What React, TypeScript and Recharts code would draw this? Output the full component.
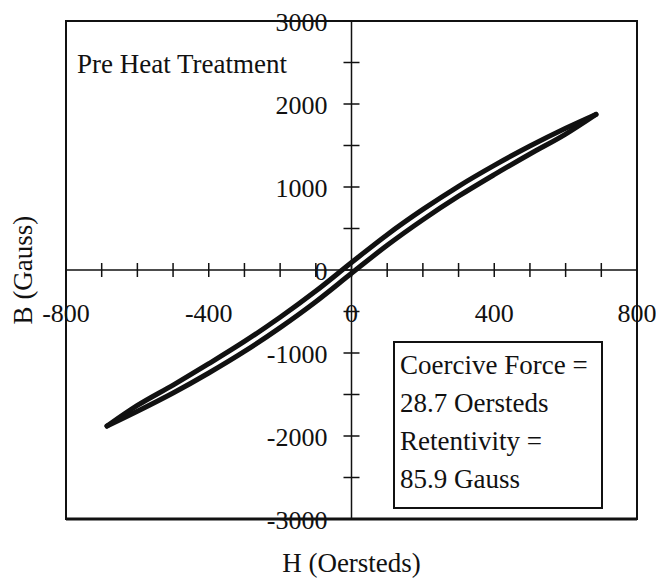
import { ComposedChart, Line, XAxis, YAxis, ReferenceLine, ReferenceArea } from 'recharts';

// hysteresis loop (H in Oersteds, B in Gauss)
const H_POINTS = [-685, -600, -500, -400, -300, -200, -100, 0, 100, 200, 300, 400, 500, 600, 685];
const UPPER_BRANCH = [-1880, -1632, -1386, -1129, -861, -570, -254, 90, 426, 730, 1009, 1261, 1494, 1708, 1875];
const LOWER_BRANCH = [-1880, -1702, -1482, -1241, -981, -694, -382, -40, 298, 606, 889, 1149, 1398, 1638, 1875];

const X_TICKS = [-800, -700, -600, -500, -400, -300, -200, -100, 0, 100, 200, 300, 400, 500, 600, 700, 800];
const X_LABELS = [-800, -400, 0, 400, 800];
const Y_TICKS = [-3000, -2500, -2000, -1500, -1000, -500, 0, 500, 1000, 1500, 2000, 2500, 3000];
const Y_LABELS = [-3000, -2000, -1000, 0, 1000, 2000, 3000];

const NOTE_LINES = ['Coercive Force =', '28.7 Oersteds', 'Retentivity =', '85.9 Gauss'];

const upperData = H_POINTS.map((h, i) => ({ h, b: UPPER_BRANCH[i] }));
const lowerData = H_POINTS.map((h, i) => ({ h, b: LOWER_BRANCH[i] }));

// body margin is removed, so the chart fills the whole 656x580 page
const W = 656;
const H = 580;
// axes get 1px each (a zero-size axis draws nothing), margins make up the rest
const MARGIN = { top: 21, right: 19, bottom: 60, left: 65 };
const PLOT_LEFT = MARGIN.left + 1;
const PLOT_BOTTOM = H - MARGIN.bottom - 1;
// axes cross in the middle of the plot area
const MID_X = (PLOT_LEFT + W - MARGIN.right) / 2;
const MID_Y = (MARGIN.top + PLOT_BOTTOM) / 2;

const INK = '#111';
const FONT = "'Liberation Serif', 'Times New Roman', serif";

function XTick(props: any) {
  const { x, payload } = props;
  const v = payload.value;
  return (
    <g>
      <line x1={x} x2={x} y1={MID_Y - 7} y2={MID_Y + 7} stroke={INK} strokeWidth={1.5} />
      {X_LABELS.includes(v) && (
        <text x={x} y={MID_Y + 52} textAnchor="middle" fontFamily={FONT} fontSize={26} fill={INK}>
          {v}
        </text>
      )}
    </g>
  );
}

function YTick(props: any) {
  const { y, payload } = props;
  const v = payload.value;
  return (
    <g>
      <line x1={MID_X - 8} x2={MID_X + 8} y1={y} y2={y} stroke={INK} strokeWidth={1.5} />
      {Y_LABELS.includes(v) && (
        <text x={MID_X - 24} y={y + 10} textAnchor="end" fontFamily={FONT} fontSize={26} fill={INK}>
          {v}
        </text>
      )}
    </g>
  );
}

export default function App() {
  return (
    <div style={{ position: 'relative', width: W, height: H, background: '#fff' }}>
      <style>{'body{margin:0} .recharts-surface{overflow:visible}'}</style>
      <ComposedChart width={W} height={H} margin={MARGIN}>
        <XAxis
          type="number"
          dataKey="h"
          domain={[-800, 800]}
          ticks={X_TICKS}
          interval={0}
          height={1}
          axisLine={false}
          tickLine={false}
          tick={(p: any) => <XTick {...p} />}
        />
        <YAxis
          type="number"
          domain={[-3000, 3000]}
          ticks={Y_TICKS}
          interval={0}
          width={1}
          axisLine={false}
          tickLine={false}
          tick={(p: any) => <YTick {...p} />}
        />
        <ReferenceArea x1={-800} x2={800} y1={-3000} y2={3000} fill="none" stroke={INK} strokeWidth={2} />
        <ReferenceLine y={-3000} stroke={INK} strokeWidth={3} />
        <ReferenceLine x={0} stroke={INK} strokeWidth={1.5} />
        <ReferenceLine y={0} stroke={INK} strokeWidth={1.5} />
        <Line
          data={upperData}
          dataKey="b"
          type="monotone"
          stroke={INK}
          strokeWidth={5}
          strokeLinecap="round"
          dot={false}
          isAnimationActive={false}
        />
        <Line
          data={lowerData}
          dataKey="b"
          type="monotone"
          stroke={INK}
          strokeWidth={5}
          strokeLinecap="round"
          dot={false}
          isAnimationActive={false}
        />
      </ComposedChart>
      <svg
        width={W}
        height={H}
        style={{ position: 'absolute', left: 0, top: 0, pointerEvents: 'none' }}
        fontFamily={FONT}
        fill={INK}
      >
        <text x={77} y={73} fontSize={27}>Pre Heat Treatment</text>
        <rect x={394} y={342} width={208} height={166} fill="#fff" stroke={INK} strokeWidth={2} />
        {NOTE_LINES.map((t, i) => (
          <text key={t} x={400} y={374 + i * 38} fontSize={27}>{t}</text>
        ))}
        <text x={MID_X} y={572} fontSize={27} textAnchor="middle">H (Oersteds)</text>
        <text
          x={23}
          y={MID_Y}
          fontSize={27}
          textAnchor="middle"
          dominantBaseline="central"
          transform={`rotate(-90 23 ${MID_Y})`}
        >
          B (Gauss)
        </text>
      </svg>
    </div>
  );
}
